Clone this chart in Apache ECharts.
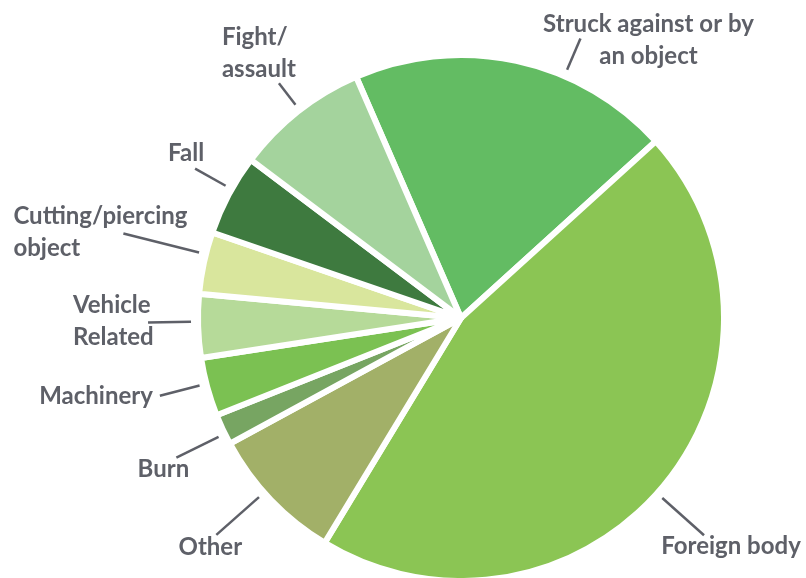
<!DOCTYPE html>
<html lang="en">
	<head>
		<meta charset="UTF-8">
		<meta name="viewport" content="width=device-width, initial-scale=1.0">
		<title>Injury causes</title>
		<style type="text/css">
			html,
			body {
				width: 100%;
				height: 100%;
				margin: 0;
				padding: 0;
				background: #ffffff;
			}

			#main {
				width: 806px;
				height: 578px;
			}
		</style>
	</head>
	<body>
		<div id="main"></div>

		<script src="https://cdn.jsdelivr.net/npm/echarts@6/dist/echarts.min.js" type="text/javascript" charset="utf-8"></script>
		<script type="text/javascript">
			// clockwise, starting at the top-left edge of the "Struck" slice
			let categories = [
				'Struck against or by\nan object',
				'Foreign body',
				'Other',
				'Burn',
				'Machinery',
				'Vehicle\nRelated',
				'Cutting/piercing\nobject',
				'Fall',
				'Fight/\nassault'
			];
			let values = [19.8, 45.4, 8.4, 1.9, 3.6, 3.9, 3.8, 5.0, 8.2];
			let colors = ['#63bc63', '#8bc554', '#a2b068', '#77a562', '#7bc152', '#b6da99', '#d9e69d', '#3e7a3f', '#a4d39d'];

			// label placement: turn (deg) of the leader line, its length past the rim,
			// and the text offset from the line end
			let labelStyle = [
				{ turn: 11, len: 44, dx: 68, dy: 2, align: 'center' },
				{ turn: 2.3, len: 66, dx: 27, dy: 11, align: 'center' },
				{ turn: 2.1, len: 67, dx: -6, dy: 12, align: 'center' },
				{ turn: -1, len: 57, dx: -13, dy: 12, align: 'center' },
				{ turn: 0.75, len: 51, dx: -7, dy: 1, align: 'right' },
				{ turn: 0.9, len: 53, dx: -75, dy: -1, align: 'left' },
				{ turn: 1.9, len: 88, dx: -110, dy: -1, align: 'left' },
				{ turn: 1.35, len: 45, dx: -9, dy: -15, align: 'center' },
				{ turn: 0.45, len: 37, dx: -57, dy: -30, align: 'left' }
			];

			let center = [461, 318];
			let rim = 260;
			let gap = 10;

			let seriesData = categories.map((name, idx) => {
				return {
					name: name,
					value: values[idx],
					itemStyle: { color: colors[idx] }
				};
			});

			var myChart = echarts.init(document.getElementById('main'));
			var option = {
				animation: false,
				series: [{
					type: 'pie',
					center: center,
					radius: rim + 3,
					startAngle: 113.5,
					clockwise: true,
					avoidLabelOverlap: false,
					silent: true,
					data: seriesData,
					itemStyle: {
						borderColor: '#ffffff',
						borderWidth: 6
					},
					label: {
						show: true,
						position: 'outside',
						formatter: '{b}',
						fontFamily: 'Lato',
						fontWeight: 'bold',
						fontSize: 24,
						lineHeight: 32,
						color: '#5e6068'
					},
					labelLine: {
						show: true,
						length: 30,
						length2: 0,
						lineStyle: {
							color: '#5e6068',
							width: 2.5
						}
					},
					labelLayout: function (params) {
						let s = labelStyle[params.dataIndex];
						let p = params.labelLinePoints[0];
						let a = Math.atan2(p[1] - center[1], p[0] - center[0]) + s.turn * Math.PI / 180;
						let p0 = [center[0] + (rim + gap) * Math.cos(a), center[1] + (rim + gap) * Math.sin(a)];
						let p1 = [center[0] + (rim + s.len) * Math.cos(a), center[1] + (rim + s.len) * Math.sin(a)];
						return {
							x: p1[0] + s.dx,
							y: p1[1] + s.dy,
							align: s.align,
							verticalAlign: 'middle',
							labelLinePoints: [p0, p1, p1]
						};
					}
				}]
			};

			myChart.setOption(option);

			window.onresize = function() {
				myChart.resize();
			}
		</script>
	</body>
</html>
